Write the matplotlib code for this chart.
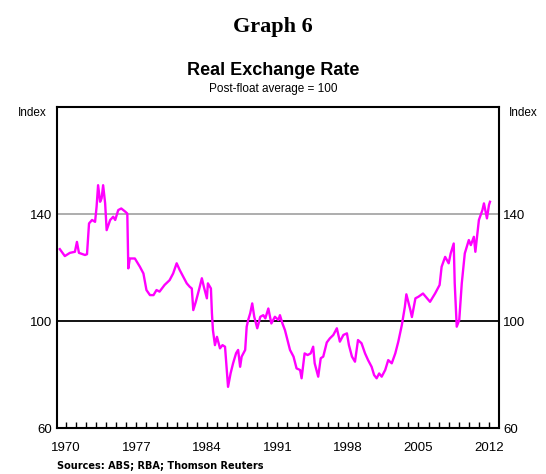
"""
Graph 6 - Real Exchange Rate (post-float average = 100)
"""

import matplotlib
matplotlib.use("Agg")
import matplotlib.pyplot as plt

# Data (year, index)
years = [1969.4, 1969.9, 1970.4, 1970.9, 1971.1, 1971.3, 1971.9, 1972.1, 1972.3, 1972.6,
         1972.9, 1973.05, 1973.2, 1973.4, 1973.55, 1973.7, 1973.9, 1974.05, 1974.4, 1974.7,
         1974.9, 1975.2, 1975.5, 1975.9, 1976.1, 1976.2, 1976.35, 1976.85, 1977.35, 1977.7,
         1978.0, 1978.35, 1978.7, 1979.0, 1979.3, 1979.8, 1980.3, 1980.65, 1981.0, 1981.3,
         1981.65, 1982.0, 1982.3, 1982.5, 1982.65, 1982.9, 1983.25, 1983.5, 1983.7, 1984.0,
         1984.1, 1984.4, 1984.5, 1984.6, 1984.8, 1985.0, 1985.3, 1985.55, 1985.8, 1986.1,
         1986.35, 1986.6, 1986.9, 1987.1, 1987.3, 1987.45, 1987.8, 1987.95, 1988.1, 1988.3,
         1988.5, 1988.7, 1989.0, 1989.3, 1989.6, 1989.8, 1990.1, 1990.4, 1990.75, 1991.1,
         1991.25, 1991.5, 1991.75, 1992.0, 1992.25, 1992.6, 1992.9, 1993.25, 1993.4, 1993.7,
         1994.0, 1994.3, 1994.55, 1994.7, 1995.05, 1995.3, 1995.55, 1995.9, 1996.2, 1996.55,
         1996.9, 1997.2, 1997.55, 1997.9, 1998.1, 1998.4, 1998.7, 1999.0, 1999.35, 1999.7,
         2000.0, 2000.35, 2000.6, 2000.85, 2001.1, 2001.35, 2001.7, 2002.0, 2002.35, 2002.7,
         2003.0, 2003.35, 2003.65, 2003.8, 2004.2, 2004.35, 2004.7, 2005.0, 2005.45, 2006.15,
         2006.65, 2007.1, 2007.3, 2007.65, 2008.0, 2008.2, 2008.5, 2008.6, 2008.8, 2009.05,
         2009.3, 2009.6, 2010.0, 2010.2, 2010.5, 2010.65, 2011.0, 2011.35, 2011.5, 2011.8,
         2012.0, 2012.1]
index = [126.9, 124.3, 125.5, 125.9, 129.6, 125.5, 124.7, 125.0, 136.5, 137.8,
         137.1, 142.7, 150.8, 144.6, 145.9, 150.8, 144.0, 134.0, 137.8, 139.0,
         137.8, 141.5, 142.1, 140.9, 140.2, 119.7, 123.4, 123.4, 120.3, 117.8,
         111.6, 109.7, 109.7, 111.6, 111.0, 113.5, 115.3, 117.8, 121.6, 119.1,
         116.6, 114.1, 112.8, 112.2, 104.1, 107.2, 112.2, 116.0, 112.8, 108.5,
         114.1, 112.2, 102.9, 96.6, 91.0, 94.1, 89.8, 91.0, 90.4, 75.4,
         80.4, 84.2, 88.0, 89.2, 82.9, 86.7, 89.2, 97.9, 100.4, 102.9,
         106.6, 101.6, 97.3, 101.6, 102.2, 101.0, 104.7, 99.1, 101.6, 100.4,
         102.2, 99.1, 96.6, 92.9, 89.2, 86.7, 82.3, 81.7, 78.6, 87.9,
         87.3, 87.9, 90.4, 84.2, 79.2, 86.1, 86.7, 92.0, 93.5, 94.8,
         97.3, 92.3, 94.8, 95.4, 91.0, 86.7, 84.8, 92.9, 91.7, 87.9,
         85.4, 82.9, 79.8, 78.6, 80.4, 79.2, 81.7, 85.4, 84.2, 87.9,
         92.3, 98.5, 105.3, 110.0, 104.1, 101.5, 108.5, 109.1, 110.3, 107.2,
         110.3, 113.5, 120.3, 124.0, 121.6, 125.3, 129.0, 114.1, 97.9, 100.4,
         114.1, 125.3, 130.3, 128.4, 131.5, 125.9, 137.8, 141.5, 144.0, 138.4,
         143.4, 144.6]

y_ticks = [60, 100, 140]
x_label_years = [1970, 1977, 1984, 1991, 1998, 2005, 2012]

fig = plt.figure(figsize=(5.46, 4.74), dpi=100)
ax = fig.add_axes([0.104, 0.097, 0.81, 0.677])

ax.axhline(140, color='#a0a0a0', linewidth=1.2, zorder=1)
ax.axhline(100, color='black', linewidth=1.3, zorder=1)
ax.plot(years, index, color='#ff00ff', linewidth=1.7, zorder=2)

ax.set_xlim(1969.1, 2013.0)
ax.set_ylim(60, 180)

# x axis: yearly tick marks pointing inward, labels every 7 years
ax.set_xticks(range(1970, 2013), minor=True)
ax.set_xticks(x_label_years)
ax.set_xticklabels([str(y) for y in x_label_years], fontsize=9.5, family='Liberation Sans')
ax.tick_params(axis='x', which='both', direction='in', length=4, width=1, pad=10)

# y axis labels on both sides, no tick marks
ax.set_yticks(y_ticks)
ax.set_yticklabels([str(v) for v in y_ticks], fontsize=9.5, family='Liberation Sans')
ax.tick_params(axis='y', which='both', length=0, pad=3, labelleft=True, labelright=True)

for side in ax.spines.values():
    side.set_linewidth(1.5)

ax.annotate('Index', xy=(0, 1), xycoords='axes fraction', xytext=(-7, -4),
            textcoords='offset points', ha='right', va='center',
            fontsize=8.5, family='Liberation Sans')
ax.annotate('Index', xy=(1, 1), xycoords='axes fraction', xytext=(7, -4),
            textcoords='offset points', ha='left', va='center',
            fontsize=8.5, family='Liberation Sans')

fig.text(0.5, 0.942, 'Graph 6', ha='center', va='center', fontsize=16,
         fontweight='bold', family='Liberation Serif')
fig.text(0.5, 0.851, 'Real Exchange Rate', ha='center', va='center', fontsize=13,
         fontweight='bold', family='Liberation Sans')
fig.text(0.5, 0.812, 'Post-float average = 100', ha='center', va='center', fontsize=8.5,
         family='Liberation Sans')
fig.text(0.104, 0.016, 'Sources: ABS; RBA; Thomson Reuters', ha='left', va='center',
         fontsize=7, family='Liberation Sans Narrow', fontweight='bold')

plt.savefig('out.png', dpi=100)
plt.close()
